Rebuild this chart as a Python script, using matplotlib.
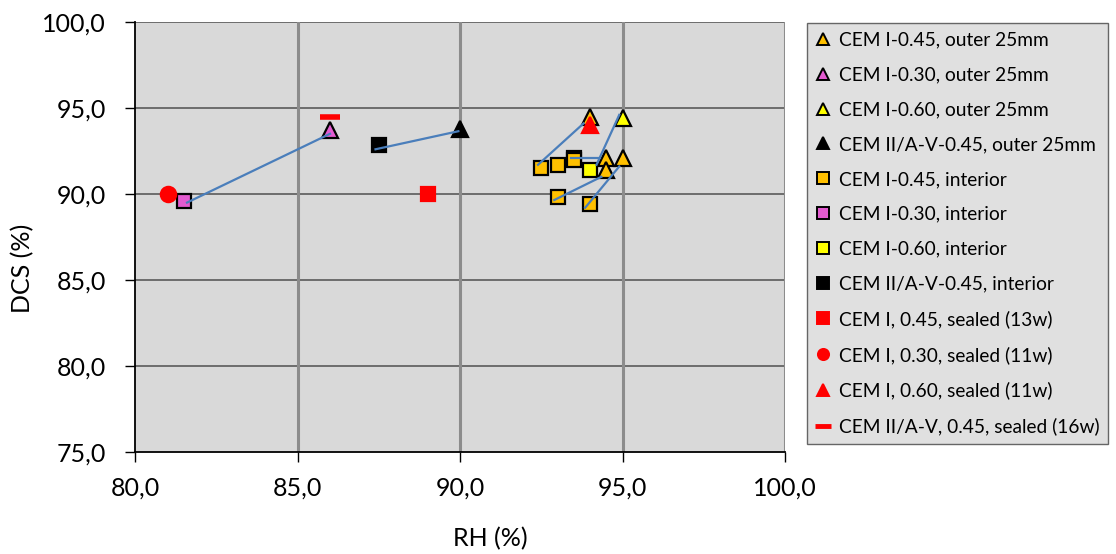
import matplotlib.pyplot as plt
from matplotlib.lines import Line2D

plt.rcParams['font.family'] = ['Lato', 'DejaVu Sans']

# outer 25 mm (triangles)
out045_x = [94.0, 94.5, 95.0, 94.5]
out045_y = [94.5, 92.1, 92.1, 91.4]
out030_x = [86.0]
out030_y = [93.7]
out060_x = [95.0]
out060_y = [94.4]
out2av_x = [90.0]
out2av_y = [93.8]

# interior (squares)
int045_x = [92.5, 93.0, 93.5, 93.5, 93.0, 94.0]
int045_y = [91.5, 91.7, 92.1, 91.95, 89.8, 89.4]
int030_x = [81.5]
int030_y = [89.6]
int060_x = [94.0]
int060_y = [91.4]
int2av_x = [87.5]
int2av_y = [92.85]

# sealed
seal045_x = [89.0]
seal045_y = [90.0]
seal030_x = [81.0]
seal030_y = [90.0]
seal060_x = [94.0]
seal060_y = [94.0]
seal2av_x = [86.0]
seal2av_y = [94.5]

# connecting lines interior -> outer
link_x = [(81.6, 86.0), (87.4, 89.95), (92.4, 93.8), (94.2, 94.9),
          (93.4, 94.3), (92.9, 94.35), (93.85, 94.9)]
link_y = [(89.5, 93.5), (92.6, 93.65), (91.7, 94.1), (91.7, 94.6),
          (92.1, 92.1), (89.65, 91.0), (89.2, 91.6)]

orange = '#FFC000'
pink = '#E35BD0'
yellow = '#FFFF00'
red = '#FF0000'

series = [
    (out045_x, out045_y, '^', orange, 'k', 'CEM I-0.45, outer 25mm'),
    (out030_x, out030_y, '^', pink, 'k', 'CEM I-0.30, outer 25mm'),
    (out060_x, out060_y, '^', yellow, 'k', 'CEM I-0.60, outer 25mm'),
    (out2av_x, out2av_y, '^', 'k', 'k', 'CEM II/A-V-0.45, outer 25mm'),
    (int045_x, int045_y, 's', orange, 'k', 'CEM I-0.45, interior'),
    (int030_x, int030_y, 's', pink, 'k', 'CEM I-0.30, interior'),
    (int060_x, int060_y, 's', yellow, 'k', 'CEM I-0.60, interior'),
    (int2av_x, int2av_y, 's', 'k', 'k', 'CEM II/A-V-0.45, interior'),
    (seal045_x, seal045_y, 's', red, red, 'CEM I, 0.45, sealed (13w)'),
    (seal030_x, seal030_y, 'o', red, red, 'CEM I, 0.30, sealed (11w)'),
    (seal060_x, seal060_y, '^', red, red, 'CEM I, 0.60, sealed (11w)'),
    (seal2av_x, seal2av_y, '_', red, red, 'CEM II/A-V, 0.45, sealed (16w)'),
]

fig = plt.figure(figsize=(11.16, 5.54), dpi=100)
ax = fig.add_axes([135/1116, 102/554, 650/1116, 430/554])
ax.set_facecolor('#D9D9D9')

handles = []
for xs, ys, m, fc, ec, lab in series:
    if m == '_':
        ax.plot(xs, ys, ls='none', marker='_', ms=15, mew=4, color=red, zorder=3)
        handles.append(Line2D([], [], ls='none', marker='_', ms=11, mew=3.5, color=red, label=lab))
    else:
        ms = 10 if m == 's' else 11
        ax.plot(xs, ys, ls='none', marker=m, ms=ms, mfc=fc, mec=ec, mew=1.6, zorder=3)
        handles.append(Line2D([], [], ls='none', marker=m, ms=8, mfc=fc, mec=ec, mew=1.4, label=lab))

for lx, ly in zip(link_x, link_y):
    ax.plot(lx, ly, color='#4A7EBB', lw=1.6, zorder=4)

ax.set_xlim(80, 100)
ax.set_ylim(75, 100)
ticks_x = [80, 85, 90, 95, 100]
ticks_y = [75, 80, 85, 90, 95, 100]
ax.set_xticks(ticks_x)
ax.set_yticks(ticks_y)
ax.set_xticklabels([f'{v:.1f}'.replace('.', ',') for v in ticks_x])
ax.set_yticklabels([f'{v:.1f}'.replace('.', ',') for v in ticks_y])
ax.tick_params(axis='both', labelsize=18, length=7, width=1, direction='out')
ax.tick_params(axis='y', pad=14)
ax.tick_params(axis='x', pad=11)

for v in ticks_y[1:]:
    ax.axhline(v, color='#5a5a5a', lw=1.2, zorder=1)
for v in ticks_x[1:]:
    ax.axvline(v, color='#8c8c8c', lw=2.2, zorder=1)
ax.spines['top'].set_visible(False)
ax.spines['right'].set_visible(False)
ax.spines['left'].set_color('k')
ax.spines['bottom'].set_color('k')
ax.spines['left'].set_linewidth(1.3)
ax.spines['bottom'].set_linewidth(1.3)

ax.set_xlabel('RH (%)', fontsize=18)
ax.set_ylabel('DCS (%)', fontsize=18)
ax.xaxis.set_label_coords(0.546, -0.175)
ax.yaxis.set_label_coords(-0.155, 0.428)

leg = fig.legend(handles=handles, loc='upper left', bbox_to_anchor=(807/1116, 1 - 23/554),
                 borderaxespad=0, fontsize=13.8, labelspacing=0.93, handlelength=0.8,
                 handletextpad=0.4, borderpad=0.45, fancybox=False, frameon=True)
leg.get_frame().set_facecolor('#D9D9D9')
leg.get_frame().set_edgecolor('#444444')
leg.get_frame().set_linewidth(1.0)

fig.savefig('out.png', dpi=100)
